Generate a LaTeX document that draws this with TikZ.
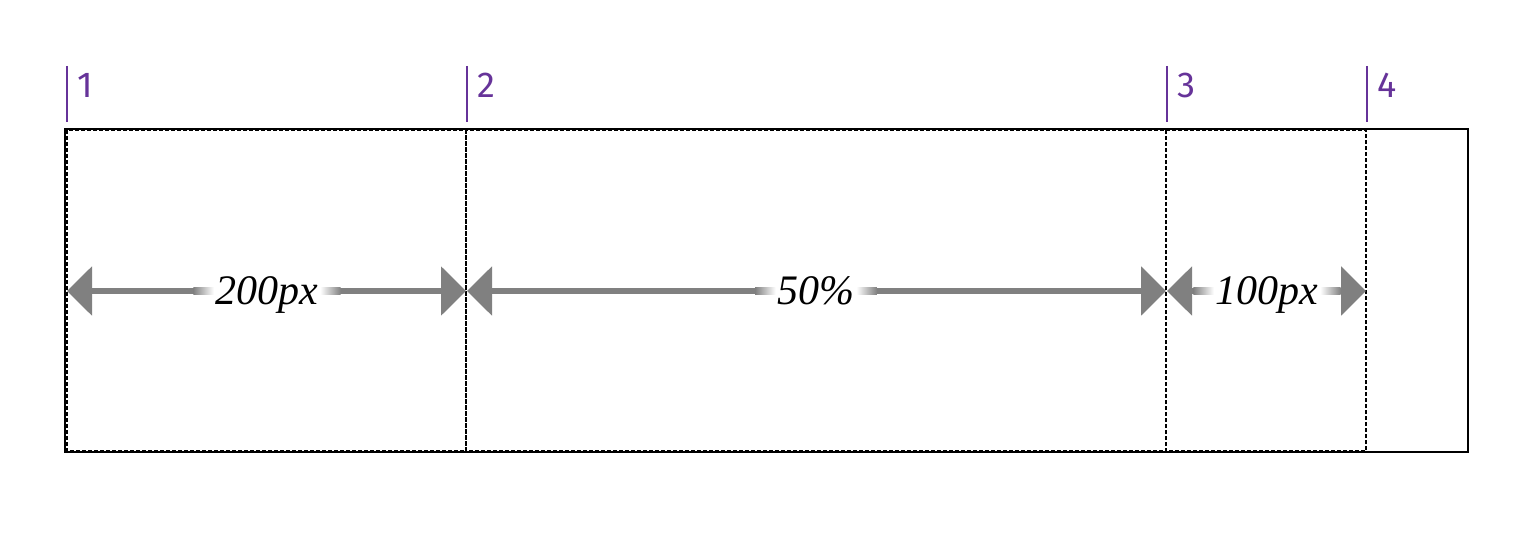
\documentclass[tikz,border=0pt]{standalone}
\usepackage{fontspec}
\setmainfont{Liberation Serif}
\newfontfamily\numfont{Fira Sans}
\usetikzlibrary{arrows.meta,calc}
\definecolor{dimgray}{HTML}{808080}
\definecolor{rpurple}{HTML}{663399}
\begin{document}
\begin{tikzpicture}[x=0.5pt,y=-0.5pt,
  outerbox/.style={draw=black, line width=1pt},
  colbox/.style={draw=black, line width=1.1pt, dash pattern=on 2pt off 1pt},
  marker/.style={draw=rpurple, line width=1pt},
  num/.style={font=\numfont\fontsize{18}{18}\selectfont, text=rpurple, anchor=base west, inner sep=0pt},
  dimline/.style={draw=dimgray, line width=3pt, {Triangle[length=12.5pt,width=24pt]}-{Triangle[length=12.5pt,width=24pt]}},
  lbl/.style={font=\itshape\fontsize{21}{21}\selectfont, fill=white, inner xsep=1pt, inner ysep=2pt, anchor=base},
  fadel/.style={left color=dimgray, right color=white},
  fader/.style={left color=white, right color=dimgray},
]
\useasboundingbox (0,0) rectangle (1540,550);
% outer container
\draw[outerbox] (65,129) rectangle (1468,452);
% columns
\draw[colbox] (67,130) rectangle (466,451);
\draw[colbox] (466,130) rectangle (1166,451);
\draw[colbox] (1166,130) rectangle (1366,451);
% grid line markers
\foreach \x/\n in {67/1,467/2,1167/3,1367/4}{
  \draw[marker] (\x,66) -- (\x,122);
  \node[num] (n\n) at (\x+10,98) {\n};
}
% dimension coordinates
\coordinate (a1) at (67,291);
\coordinate (a2) at (466,291);
\coordinate (b1) at (467,291);
\coordinate (b2) at (1166,291);
\coordinate (c1) at (1167,291);
\coordinate (c2) at (1366,291);
\draw[dimline] (a1) -- (a2);
\draw[dimline] (b1) -- (b2);
\draw[dimline] (c1) -- (c2);
% labels (placed first to measure, then gradients, then redrawn on top)
\node[lbl] (l1) at (267,305) {200px};
\node[lbl] (l2) at (816,305) {50\%};
\node[lbl] (l3) at (1267,305) {100px};
\foreach \l in {l1,l2,l3}{
  \shade[fadel] ($(\l.west |- a1)+(-20,-3.4)$) rectangle ($(\l.west |- a1)+(0.5,3.4)$);
  \shade[fader] ($(\l.east |- a1)+(-0.5,-3.4)$) rectangle ($(\l.east |- a1)+(20,3.4)$);
}
\node[lbl, anchor=center] (l1top) at (l1.center) {200px};
\node[lbl, anchor=center] (l2top) at (l2.center) {50\%};
\node[lbl, anchor=center] (l3top) at (l3.center) {100px};
\end{tikzpicture}
\end{document}
